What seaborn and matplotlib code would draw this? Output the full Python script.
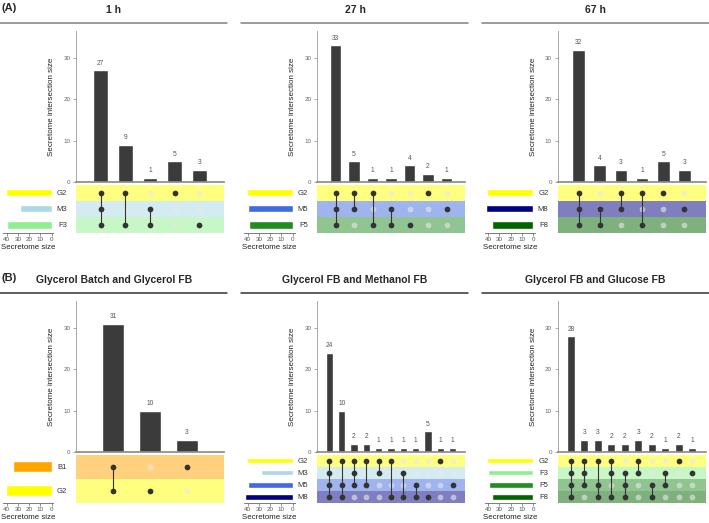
import numpy as np
import pandas as pd
import seaborn as sns
import matplotlib.pyplot as plt
from matplotlib.lines import Line2D

# ---- data -------------------------------------------------------------
set_colors = {"G2": "#FFFF00", "M3": "#ADD8E6", "F3": "#90EE90",
              "M5": "#4169E1", "F5": "#228B22", "M8": "#000080",
              "F8": "#006400", "B1": "#FFA500"}

a1_sets = ["G2", "M3", "F3"]
a1_sizes = [41, 28, 40]
a1_counts = [27, 9, 1, 5, 3]
a1_members = [["G2", "M3", "F3"], ["G2", "F3"], ["M3", "F3"], ["G2"], ["F3"]]

a2_sets = ["G2", "M5", "F5"]
a2_sizes = [41, 40, 39]
a2_counts = [33, 5, 1, 1, 4, 2, 1]
a2_members = [["G2", "M5", "F5"], ["G2", "M5"], ["G2", "F5"], ["M5", "F5"],
              ["F5"], ["G2"], ["M5"]]

a3_sets = ["G2", "M8", "F8"]
a3_sizes = [41, 42, 37]
a3_counts = [32, 4, 3, 1, 5, 3]
a3_members = [["G2", "M8", "F8"], ["M8", "F8"], ["G2", "M8"], ["G2", "F8"],
              ["G2"], ["M8"]]

b1_sets = ["B1", "G2"]
b1_sizes = [34, 41]
b1_counts = [31, 10, 3]
b1_members = [["B1", "G2"], ["G2"], ["B1"]]

b2_sets = ["G2", "M3", "M5", "M8"]
b2_sizes = [41, 28, 40, 42]
b2_counts = [24, 10, 2, 2, 1, 1, 1, 1, 5, 1, 1]
b2_members = [["G2", "M3", "M5", "M8"], ["G2", "M5", "M8"], ["G2", "M3", "M5"],
              ["G2", "M5"], ["G2", "M3"], ["G2", "M8"], ["M3", "M8"],
              ["M5", "M8"], ["M8"], ["G2"], ["M5"]]

b3_sets = ["G2", "F3", "F5", "F8"]
b3_sizes = [41, 40, 39, 37]
b3_counts = [28, 3, 3, 2, 2, 3, 2, 1, 2, 1]
b3_members = [["G2", "F3", "F5", "F8"], ["G2", "F3", "F5"], ["G2", "F5", "F8"],
              ["G2", "F3", "F8"], ["F3", "F5", "F8"], ["G2", "F3"], ["F5", "F8"],
              ["F3", "F5"], ["G2"], ["F3"]]

# ---- figure -----------------------------------------------------------
sns.set_style("white")
plt.rcParams["font.family"] = ["Liberation Sans", "DejaVu Sans"]

W, H = 709, 523
fig = plt.figure(figsize=(W / 100, H / 100), dpi=100)


def box(x0, y0, x1, y1):
    return [x0 / W, 1 - y1 / H, (x1 - x0) / W, (y1 - y0) / H]


def draw_panel(ox, oy, title, sets, sizes, counts, members, line_color):
    n = len(counts)
    m = len(sets)

    # title and rule
    fig.text((ox + 114) / W, 1 - (oy + 10) / H, title, ha="center", va="center",
             fontsize=7.5, fontweight="bold")
    fig.add_artist(Line2D([ox / W, (ox + 227) / W], [1 - (oy + 23) / H] * 2,
                          color=line_color, lw=1.1))

    # intersection bars
    ax = fig.add_axes(box(ox + 76, oy + 31, ox + 224, oy + 182))
    df = pd.DataFrame({"col": range(n), "count": counts})
    sns.barplot(data=df, x="col", y="count", color="#3b3b3b", saturation=1,
                width=0.6, ax=ax)
    ax.bar_label(ax.containers[0], fontsize=4.8, color="#555555", padding=2.5)
    ax.set_xlim(-1, n)
    ax.set_ylim(0, 36.5)
    ax.set_yticks([0, 10, 20, 30])
    ax.set_xticks([])
    ax.set_xlabel("")
    ax.set_ylabel("Secretome intersection size", fontsize=5.8, color="#222222",
                  labelpad=6)
    ax.tick_params(axis="y", labelsize=4.5, labelcolor="#666666", length=2,
                   width=0.5, color="#888888", pad=2, left=True)
    for s in ["top", "right"]:
        ax.spines[s].set_visible(False)
    ax.spines["left"].set_color("#999999")
    ax.spines["left"].set_linewidth(0.6)
    ax.spines["bottom"].set_color("#888888")
    ax.spines["bottom"].set_linewidth(1.2)

    # membership matrix
    axm = fig.add_axes(box(ox + 76, oy + 184.5, ox + 224, oy + 233))
    for i, s in enumerate(sets):
        axm.axhspan(i - 0.5, i + 0.5, color=set_colors[s], alpha=0.5, lw=0)
    dots = pd.DataFrame([(j, i, s in members[j]) for j in range(n)
                         for i, s in enumerate(sets)],
                        columns=["col", "row", "member"])
    sns.scatterplot(data=dots[~dots["member"]], x="col", y="row",
                    color="#e8e8e8", alpha=0.6, s=17, linewidth=0, ax=axm)
    for j, mem in enumerate(members):
        rows = [sets.index(s) for s in mem]
        if len(rows) > 1:
            axm.vlines(j, min(rows), max(rows), color="#333333", lw=0.8, zorder=2)
    sns.scatterplot(data=dots[dots["member"]], x="col", y="row",
                    color="#333333", s=17, linewidth=0, ax=axm, zorder=3)
    axm.set_xlim(-1, n)
    axm.set_ylim(m - 0.5, -0.5)
    axm.set_xticks([])
    axm.set_yticks(range(m))
    axm.set_yticklabels(sets, fontsize=5.5, color="#333333")
    axm.tick_params(axis="y", left=False, pad=3)
    axm.set_xlabel("")
    axm.set_ylabel("")
    for s in axm.spines.values():
        s.set_visible(False)

    # set sizes
    axs = fig.add_axes(box(ox + 3, oy + 184.5, ox + 53.5, oy + 233))
    sdf = pd.DataFrame({"set": sets, "size": sizes})
    sns.barplot(data=sdf, x="size", y="set", hue="set",
                palette=[set_colors[s] for s in sets], saturation=1,
                legend=False, width=0.45, orient="h", ax=axs)
    axs.set_xlim(43.3, -1.6)
    axs.set_ylim(m - 0.5, -0.5)
    axs.set_xticks([40, 30, 20, 10, 0])
    axs.set_yticks([])
    axs.set_ylabel("")
    axs.set_xlabel("Secretome size", fontsize=5.7, color="#222222", labelpad=1)
    axs.tick_params(axis="x", labelsize=4.5, labelcolor="#555555", length=2,
                    width=0.5, color="#666666", pad=1, bottom=True)
    for s in ["top", "right", "left"]:
        axs.spines[s].set_visible(False)
    axs.spines["bottom"].set_color("#666666")
    axs.spines["bottom"].set_linewidth(0.6)


draw_panel(0, 0, "1 h", a1_sets, a1_sizes, a1_counts, a1_members, "#808080")
draw_panel(241, 0, "27 h", a2_sets, a2_sizes, a2_counts, a2_members, "#808080")
draw_panel(481.5, 0, "67 h", a3_sets, a3_sizes, a3_counts, a3_members, "#808080")
draw_panel(0, 270, "Glycerol Batch and Glycerol FB", b1_sets, b1_sizes,
           b1_counts, b1_members, "#333333")
draw_panel(241, 270, "Glycerol FB and Methanol FB", b2_sets, b2_sizes,
           b2_counts, b2_members, "#333333")
draw_panel(481.5, 270, "Glycerol FB and Glucose FB", b3_sets, b3_sizes,
           b3_counts, b3_members, "#333333")

fig.text(1 / W, 1 - 8 / H, "(A)", ha="left", va="center", fontsize=8,
         fontweight="bold")
fig.text(1 / W, 1 - 278 / H, "(B)", ha="left", va="center", fontsize=8,
         fontweight="bold")

fig.savefig("out.png", dpi=100)
